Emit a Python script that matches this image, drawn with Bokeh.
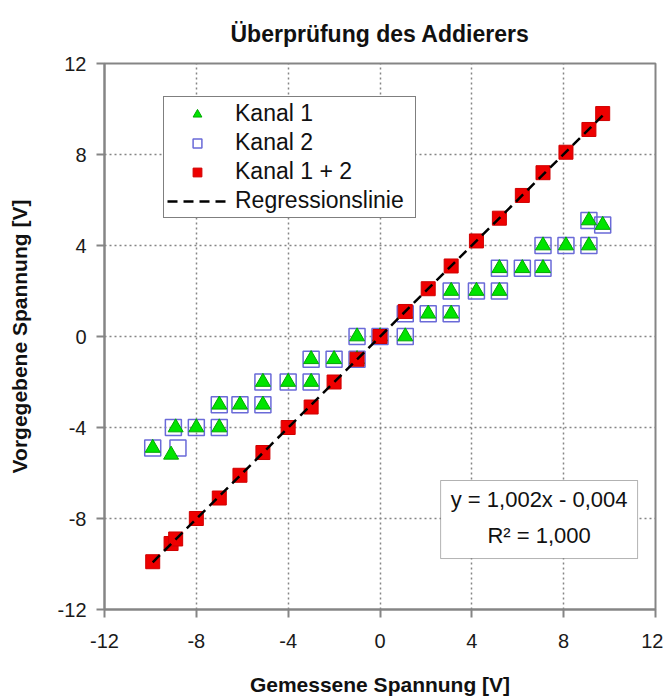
from bokeh.plotting import figure
from bokeh.models import Range1d, Legend, LegendItem, Label, BoxAnnotation, FixedTicker, ColumnDataSource
from bokeh.embed import file_html
from bokeh.resources import INLINE

# ---------------- data ----------------
title_text = "Überprüfung des Addierers"
x_label = "Gemessene Spannung [V]"
y_label = "Vorgegebene Spannung [V]"
tick_values = [-12, -8, -4, 0, 4, 8, 12]
tick_labels = ["-12", "-8", "-4", "0", "4", "8", "12"]

# Kanal 1 + 2 (red squares)
sum_x = [-9.9, -9.1, -8.9, -8.0, -7.0, -6.1, -5.1, -4.0, -3.0, -2.0, -1.0, 0.0,
         1.1, 2.1, 3.1, 4.2, 5.2, 6.2, 7.1, 8.1, 9.1, 9.7]
sum_y = [-9.9, -9.1, -8.9, -8.0, -7.1, -6.1, -5.1, -4.0, -3.1, -2.0, -1.0, 0.0,
         1.1, 2.1, 3.1, 4.2, 5.2, 6.2, 7.2, 8.1, 9.1, 9.8]

# Kanal 1 (green triangles)
k1_x = [-9.9, -9.1, -8.9, -8.0, -7.0, -7.0, -6.1, -5.1, -5.1, -4.0, -3.0, -3.0,
        -2.0, -1.0, -1.0, 0.0, 1.1, 1.1, 2.1, 3.1, 3.1, 4.2, 5.2, 5.2, 6.2, 7.1,
        7.1, 8.1, 9.1, 9.1, 9.7]
k1_y = [-4.9, -5.2, -4.0, -4.0, -4.0, -3.0, -3.0, -3.0, -2.0, -2.0, -2.0, -1.0,
        -1.0, -1.0, 0.0, 0.0, 0.0, 1.0, 1.0, 1.0, 2.0, 2.0, 2.0, 3.0, 3.0, 3.0,
        4.0, 4.0, 4.0, 5.1, 4.9]

# Kanal 2 (hollow blue squares)
k2_x = [-9.9, -8.8, -9.0, -8.0, -7.0, -7.0, -6.1, -5.1, -5.1, -4.0, -3.0, -3.0,
        -2.0, -1.0, -1.0, 0.0, 1.1, 1.1, 2.1, 3.1, 3.1, 4.2, 5.2, 5.2, 6.2, 7.1,
        7.1, 8.1, 9.1, 9.1, 9.7]
k2_y = [-4.9, -4.9, -4.0, -4.0, -4.0, -3.0, -3.0, -3.0, -2.0, -2.0, -2.0, -1.0,
        -1.0, -1.0, 0.0, 0.0, 0.0, 1.0, 1.0, 1.0, 2.0, 2.0, 2.0, 3.0, 3.0, 3.0,
        4.0, 4.0, 4.0, 5.1, 4.9]

reg_slope = 1.002
reg_intercept = -0.004
eq_text = "y = 1,002x - 0,004"
r2_text = "R\u00b2 = 1,000"
legend_labels = ["Kanal 1", "Kanal 2", "Kanal 1 + 2", "Regressionslinie"]

# regression line across the measured range
reg_x = [min(sum_x), max(sum_x)]
reg_y = [reg_slope * v + reg_intercept for v in reg_x]

FONT = "Liberation Sans"
GRAY = "#858585"

p = figure(frame_width=551, frame_height=546,
           x_range=Range1d(-12, 12), y_range=Range1d(-12, 12),
           output_backend="svg", toolbar_location=None,
           min_border_left=104, min_border_right=8,
           min_border_top=63, min_border_bottom=80)

p.background_fill_color = "white"
p.border_fill_color = "white"
p.outline_line_color = GRAY
p.outline_line_width = 2

# title
p.title.text = title_text
p.title.align = "center"
p.title.text_font = FONT
p.title.text_font_size = "23px"
p.title.text_font_style = "bold"
p.title.text_color = "#111111"
p.title.standoff = 33

# axes
for ax in (p.xaxis[0], p.yaxis[0]):
    ax.ticker = FixedTicker(ticks=tick_values)
    ax.major_label_overrides = {v: s for v, s in zip(tick_values, tick_labels)}
    ax.axis_line_color = GRAY
    ax.axis_line_width = 2
    ax.major_tick_line_color = GRAY
    ax.major_tick_line_width = 2
    ax.major_tick_in = 0
    ax.major_tick_out = 8
    ax.minor_tick_line_color = None
    ax.major_label_text_font = FONT
    ax.major_label_text_font_size = "20px"
    ax.major_label_text_color = "#1a1a1a"
    ax.axis_label_text_font = FONT
    ax.axis_label_text_font_size = "21px"
    ax.axis_label_text_font_style = "bold"
    ax.axis_label_text_color = "#111111"

p.xaxis[0].axis_label = x_label
p.yaxis[0].axis_label = y_label
p.xaxis[0].major_label_standoff = 16
p.xaxis[0].axis_label_standoff = 22
p.yaxis[0].major_label_standoff = 10
p.yaxis[0].axis_label_standoff = 24

# grid
for g in (p.xgrid[0], p.ygrid[0]):
    g.ticker = FixedTicker(ticks=tick_values[1:-1])
    g.grid_line_color = GRAY
    g.grid_line_width = 1.5
    g.grid_line_dash = "2 3"

# glyphs
src1 = ColumnDataSource(dict(x=k1_x, y=k1_y))
src2 = ColumnDataSource(dict(x=k2_x, y=k2_y))
src12 = ColumnDataSource(dict(x=sum_x, y=sum_y))

r2 = p.scatter("x", "y", source=src2, marker="square", size=16,
               fill_color=None, line_color="#6a6ad8", line_width=1.5)
r1 = p.scatter("x", "y", source=src1, marker="triangle", size=15,
               fill_color="#00e400", line_color="#00a800", line_width=1)
r12 = p.scatter("x", "y", source=src12, marker="square", size=14,
                fill_color="#ee0000", line_color="#d00000", line_width=1)
rl = p.line(reg_x, reg_y, line_color="black", line_width=2.5, line_dash="10 6")

legend = Legend(items=[
    LegendItem(label=legend_labels[0], renderers=[r1]),
    LegendItem(label=legend_labels[1], renderers=[r2]),
    LegendItem(label=legend_labels[2], renderers=[r12]),
    LegendItem(label=legend_labels[3], renderers=[rl]),
], location=(59, 391))
legend.label_text_font = FONT
legend.label_text_font_size = "23px"
legend.label_text_color = "#111111"
legend.border_line_color = "black"
legend.border_line_width = 1
legend.background_fill_color = "white"
legend.background_fill_alpha = 1
legend.padding = 3
legend.spacing = 2
legend.margin = 0
legend.glyph_width = 60
legend.glyph_height = 22
legend.label_height = 22
legend.label_standoff = 8
legend.label_width = 177
p.add_layout(legend, "center")

# equation box
box = BoxAnnotation(left=2.64, right=11.22, top=-6.33, bottom=-9.76,
                    fill_color="white", fill_alpha=1,
                    line_color="black", line_width=1, level="annotation")
p.add_layout(box)
for txt, yy in ((eq_text, -7.16), (r2_text, -8.75)):
    p.add_layout(Label(x=6.93, y=yy, text=txt, text_align="center",
                       text_baseline="middle", text_font=FONT,
                       text_font_size="22px", text_color="#111111"))

open("out.html", "w").write(file_html(p, INLINE))
